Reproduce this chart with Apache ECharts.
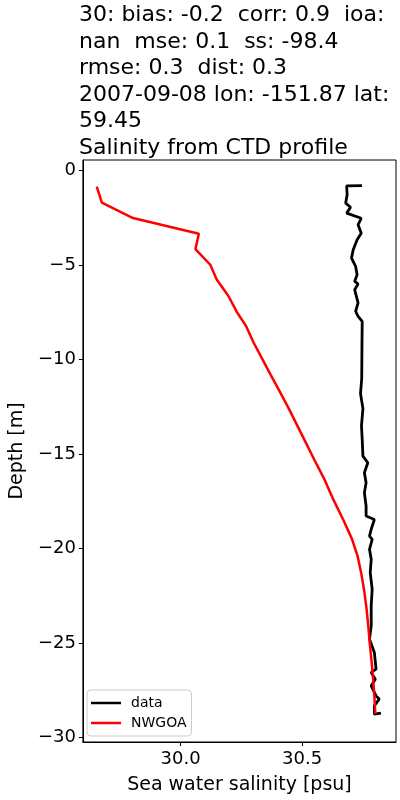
<!DOCTYPE html>
<html><head><meta charset="utf-8">
<script src="https://cdn.jsdelivr.net/npm/echarts@6/dist/echarts.min.js"></script>
<style>html,body{margin:0;padding:0;background:#fff}#c{width:400px;height:800px}</style>
</head><body><div id="c"></div>
<script>
const titleText = "30: bias: -0.2  corr: 0.9  ioa:\nnan  mse: 0.1  ss: -98.4\nrmse: 0.3  dist: 0.3\n2007-09-08 lon: -151.87 lat:\n59.45\nSalinity from CTD profile";
const xTicks = [30.0, 30.5];
const yTicks = [0, -5, -10, -15, -20, -25, -30];
// observed CTD profile: salinity (psu)
const dataSal = [30.746,30.683,30.685,30.679,30.699,30.683,30.743,30.730,30.743,30.726,30.710,30.703,30.720,30.726,30.716,30.730,30.716,30.723,30.730,30.720,30.730,30.747,30.746,30.745,30.740,30.750,30.744,30.747,30.750,30.770,30.756,30.763,30.756,30.763,30.763,30.797,30.784,30.777,30.788,30.777,30.784,30.780,30.788,30.784,30.784,30.777,30.797,30.804,30.784,30.801,30.784,30.804,30.817,30.797,30.797,30.824];
// observed depth (m)
const dataDepth = [-0.80,-0.82,-1.29,-1.73,-1.95,-2.26,-2.53,-2.88,-3.32,-3.67,-4.20,-4.64,-5.08,-5.52,-5.87,-6.00,-6.31,-6.66,-7.01,-7.45,-7.72,-7.98,-9.30,-11.0,-11.8,-12.6,-13.5,-14.23,-15.11,-15.46,-15.99,-16.52,-17.05,-17.75,-18.28,-18.46,-18.98,-19.34,-19.51,-20.04,-20.57,-21.27,-22.15,-23.03,-24.09,-24.79,-25.50,-26.38,-26.55,-26.91,-27.26,-27.79,-27.96,-28.31,-28.76,-28.70];
// NWGOA model salinity (psu)
const modelSal = [29.655,29.676,29.804,30.075,30.061,30.122,30.149,30.196,30.230,30.270,30.300,30.333,30.370,30.408,30.445,30.480,30.515,30.550,30.590,30.628,30.670,30.705,30.728,30.743,30.756,30.765,30.772,30.778,30.785,30.792,30.797,30.801];
// NWGOA model depth (m)
const modelDepth = [-0.86,-1.70,-2.52,-3.35,-4.16,-4.99,-5.78,-6.63,-7.46,-8.25,-9.10,-9.90,-10.8,-11.7,-12.6,-13.5,-14.4,-15.3,-16.3,-17.4,-18.5,-19.5,-20.4,-21.3,-22.3,-23.2,-24.1,-25.0,-25.9,-26.9,-27.8,-28.75];

const F = 'DejaVu Sans';
const chart = echarts.init(document.getElementById('c'), null, {renderer:'canvas'});
const minus = v => String(v).replace('-', '\u2212');
chart.setOption({
  animation: false,
  backgroundColor: '#fff',
  title: {
    text: titleText, left: 79, top: 2, padding: 0,
    textStyle: {fontFamily: F, fontSize: 22, fontWeight: 'normal', color: '#000', lineHeight: 26.6}
  },
  legend: {
    orient: 'vertical', left: 87, top: 690,
    icon: 'rect', itemWidth: 30, itemHeight: 2.5, itemGap: 4,
    padding: [5, 5, 5, 4],
    borderColor: '#cccccc', borderWidth: 1, borderRadius: 4,
    backgroundColor: 'rgba(255,255,255,0.8)',
    textStyle: {fontFamily: F, fontSize: 14, color: '#000', padding: [0, 0, 0, 5], lineHeight: 16},
    data: ['data', 'NWGOA']
  },
  grid: {left: 79, right: 4, top: 160, bottom: 57, show: true, borderColor: '#000', borderWidth: 1, containLabel: false},
  xAxis: {
    type: 'value', min: 29.598, max: 30.886,
    name: 'Sea water salinity [psu]', nameLocation: 'middle', nameGap: 34,
    nameTextStyle: {fontFamily: F, fontSize: 19, color: '#000'},
    axisLine: {show: true, onZero: false, lineStyle: {color: '#000', width: 1}},
    axisTick: {show: true, inside: false, length: 4, lineStyle: {color: '#000'}, customValues: xTicks},
    axisLabel: {fontFamily: F, fontSize: 18, color: '#000', margin: 8, customValues: xTicks, formatter: v => v.toFixed(1)},
    splitLine: {show: false}
  },
  yAxis: {
    type: 'value', min: -30.23, max: 0.55,
    name: 'Depth [m]', nameLocation: 'middle', nameGap: 54,
    nameTextStyle: {fontFamily: F, fontSize: 19, color: '#000'},
    axisLine: {show: true, onZero: false, lineStyle: {color: '#000', width: 1}},
    axisTick: {show: true, inside: false, length: 4, lineStyle: {color: '#000'}, customValues: yTicks},
    axisLabel: {fontFamily: F, fontSize: 18, color: '#000', margin: 7, customValues: yTicks, formatter: v => minus(v)},
    splitLine: {show: false}
  },
  series: [
    {name: 'data', type: 'line', symbol: 'none', color: '#000',
     lineStyle: {color: '#000', width: 2.8}, data: dataSal.map((s, i) => [s, dataDepth[i]])},
    {name: 'NWGOA', type: 'line', symbol: 'none', color: '#ff0000',
     lineStyle: {color: '#ff0000', width: 2.5}, data: modelSal.map((s, i) => [s, modelDepth[i]])}
  ]
});
</script></body></html>
